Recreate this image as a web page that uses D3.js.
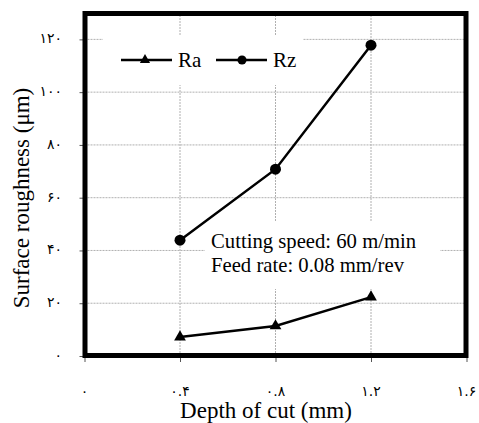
<!DOCTYPE html>
<html>
<head>
<meta charset="utf-8">
<script src="https://cdnjs.cloudflare.com/ajax/libs/d3/7.8.5/d3.min.js"></script>
<style>
html,body{margin:0;padding:0;background:#fff;}
svg{display:block;}
</style>
</head>
<body>
<svg id="chart" width="479" height="423"></svg>
<script>
const depth = [0.4, 0.8, 1.2];
const ra = [7.2, 11.4, 22.3];
const rz = [43.9, 70.8, 117.8];
const yTicks = [0, 20, 40, 60, 80, 100, 120];
const yTickLabels = ["۰", "۲۰", "۴۰", "۶۰", "۸۰", "۱۰۰", "۱۲۰"];
const xTicks = [0, 0.4, 0.8, 1.2, 1.6];
const xTickLabels = ["۰", "۰.۴", "۰.۸", "۱.۲", "۱.۶"];
const seriesNames = ["Ra", "Rz"];
const noteLines = ["Cutting speed: 60 m/min", "Feed rate: 0.08 mm/rev"];
const xTitle = "Depth of cut (mm)";
const yTitle = "Surface roughness (μm)";

const svg = d3.select("#chart");
const serif = "'Liberation Serif','Times New Roman',serif";
const x = d3.scaleLinear().domain([0, 1.6]).range([84.5, 466.5]);
const y = d3.scaleLinear().domain([0, 130]).range([356, 13]);

// gridlines
const grid = svg.append("g");
grid.selectAll("line.h").data(yTicks.filter(d => d > 0)).enter().append("line")
  .attr("x1", x(0)).attr("x2", x(1.6)).attr("y1", d => y(d)).attr("y2", d => y(d))
  .attr("stroke", "#b0b0b0").attr("stroke-width", 1).attr("stroke-dasharray", "2,1");
grid.selectAll("line.v").data(xTicks.filter(d => d > 0 && d < 1.6)).enter().append("line")
  .attr("y1", y(0)).attr("y2", y(130)).attr("x1", d => x(d)).attr("x2", d => x(d))
  .attr("stroke", "#b0b0b0").attr("stroke-width", 1).attr("stroke-dasharray", "2,1");

// axes (ticks outward)
const yAxis = d3.axisLeft(y).tickValues(yTicks).tickSize(5).tickFormat("");
const gy = svg.append("g").attr("transform", `translate(${x(0)},0)`).call(yAxis);
gy.select(".domain").remove();
gy.selectAll(".tick line").attr("stroke", "#555");
const xAxis = d3.axisBottom(x).tickValues(xTicks).tickSize(6).tickFormat("");
const gx = svg.append("g").attr("transform", `translate(0,${y(0)})`).call(xAxis);
gx.select(".domain").remove();
gx.selectAll(".tick line").attr("stroke", "#555");

// tick labels
svg.append("g").selectAll("text").data(yTicks).enter().append("text")
  .attr("x", 62).attr("y", d => y(d) + 4)
  .attr("text-anchor", "end").attr("font-family", "'DejaVu Sans',sans-serif").attr("font-size", 14)
  .attr("fill", "#000").text((d, i) => yTickLabels[i]);
svg.append("g").selectAll("text").data(xTicks).enter().append("text")
  .attr("x", d => x(d)).attr("y", 396)
  .attr("text-anchor", "middle").attr("font-family", "'DejaVu Sans',sans-serif").attr("font-size", 14)
  .attr("fill", "#000").text((d, i) => xTickLabels[i]);

// legend box (white, hides gridlines)
svg.append("rect").attr("x", 103).attr("y", 35).attr("width", 200).attr("height", 50).attr("fill", "#fff");
// note box
svg.append("rect").attr("x", 205).attr("y", 222).attr("width", 235).attr("height", 67).attr("fill", "#fff");

// lines
const line = d3.line().x(d => x(d[0])).y(d => y(d[1]));
const raPts = depth.map((d, i) => [d, ra[i]]);
const rzPts = depth.map((d, i) => [d, rz[i]]);
svg.append("path").attr("d", line(raPts)).attr("fill", "none").attr("stroke", "#000").attr("stroke-width", 2.5);
svg.append("path").attr("d", line(rzPts)).attr("fill", "none").attr("stroke", "#000").attr("stroke-width", 2.5);
const tri = d3.symbol().type(d3.symbolTriangle).size(60);
const cir = d3.symbol().type(d3.symbolCircle).size(95);
svg.selectAll("path.ra").data(raPts).enter().append("path")
  .attr("transform", d => `translate(${x(d[0])},${y(d[1])})`).attr("d", tri).attr("fill", "#000");
svg.selectAll("path.rz").data(rzPts).enter().append("path")
  .attr("transform", d => `translate(${x(d[0])},${y(d[1])})`).attr("d", cir).attr("fill", "#000");

// border
svg.append("rect").attr("x", x(0) + 0.5).attr("y", y(130) + 0.5)
  .attr("width", x(1.6) - x(0) - 1).attr("height", y(0) - y(130) - 1)
  .attr("fill", "none").attr("stroke", "#000").attr("stroke-width", 5);

// legend
const leg = svg.append("g");
[[121, 172, 145, 178], [216, 267, 242, 273]].forEach((p, i) => {
  leg.append("line").attr("x1", p[0]).attr("x2", p[1]).attr("y1", 60).attr("y2", 60)
    .attr("stroke", "#000").attr("stroke-width", 2.5);
  const sym = i === 0 ? d3.symbol().type(d3.symbolTriangle).size(45) : d3.symbol().type(d3.symbolCircle).size(65);
  leg.append("path").attr("transform", `translate(${p[2]},60)`).attr("d", sym()).attr("fill", "#000");
  leg.append("text").attr("x", p[3]).attr("y", 67).attr("font-family", serif).attr("font-size", 21)
    .attr("fill", "#000").text(seriesNames[i]);
});

// note
svg.append("g").selectAll("text").data(noteLines).enter().append("text")
  .attr("x", 211).attr("y", (d, i) => 248 + i * 24)
  .attr("font-family", serif).attr("font-size", 20.7).attr("fill", "#000").text(d => d);

// titles
svg.append("text").attr("x", 266).attr("y", 418).attr("text-anchor", "middle")
  .attr("font-family", serif).attr("font-size", 23).attr("fill", "#000").text(xTitle);
svg.append("text").attr("transform", "translate(29,198) rotate(-90)").attr("text-anchor", "middle")
  .attr("font-family", serif).attr("font-size", 23).attr("fill", "#000").text(yTitle);
</script>
</body>
</html>
